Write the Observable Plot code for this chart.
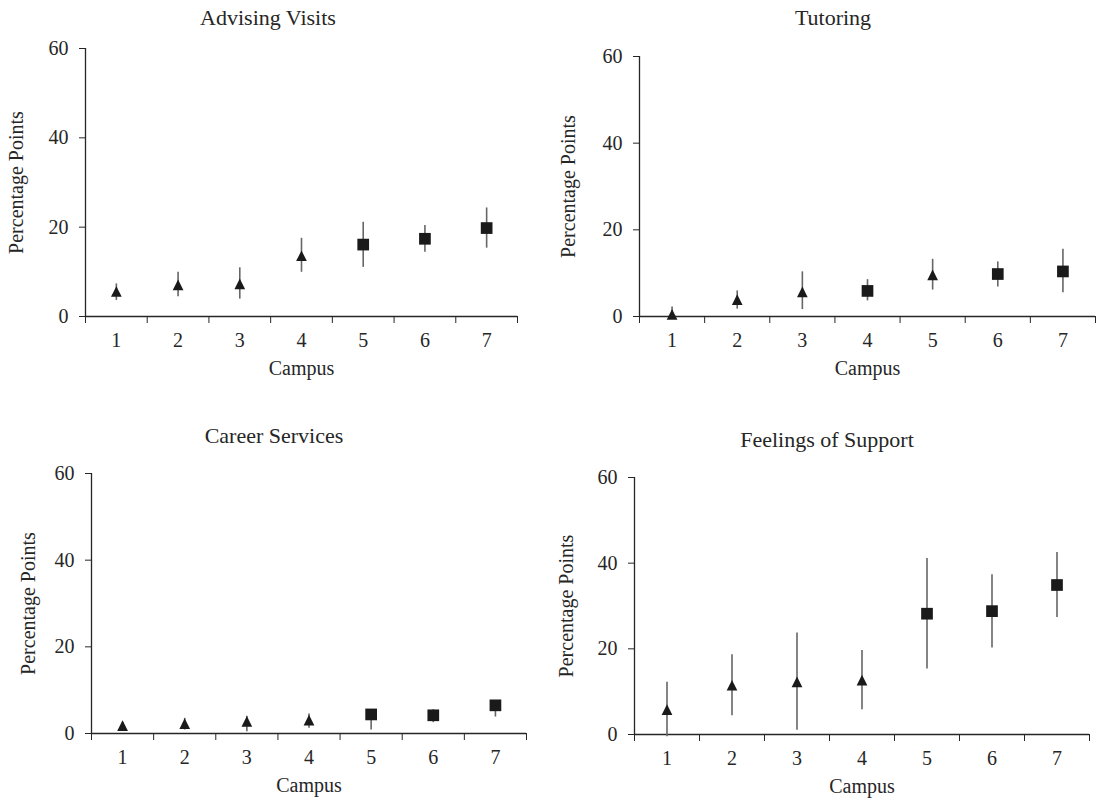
<!DOCTYPE html>
<html>
<head>
<meta charset="utf-8">
<script src="https://cdn.jsdelivr.net/npm/d3@7"></script>
<script src="https://cdn.jsdelivr.net/npm/@observablehq/plot@0.6"></script>
<style>
  html, body { margin: 0; padding: 0; background: #fff; }
  #wrap { position: relative; width: 1099px; height: 802px; overflow: hidden; font-family: "Liberation Serif", "Times New Roman", serif; color: #262626; }
  .panel { position: absolute; }
  .panel text { font-size: 20px; }
  .title { position: absolute; font-size: 22px; transform: translate(-50%, -50%); white-space: nowrap; }
</style>
</head>
<body>
<div id="wrap"></div>
<script>
// ---- Data ----
const campuses = [1, 2, 3, 4, 5, 6, 7];
const yTicks = [0, 20, 40, 60];

const panelTitles = ["Advising Visits", "Tutoring", "Career Services", "Feelings of Support"];

const advisingShape = ["triangle", "triangle", "triangle", "triangle", "square", "square", "square"];
const advisingEst   = [5.6, 7.1, 7.3, 13.6, 16.1, 17.4, 19.8];
const advisingLo    = [3.6, 4.4, 3.9, 9.9, 11.0, 14.4, 15.3];
const advisingHi    = [7.3, 9.9, 10.9, 17.5, 21.1, 20.4, 24.3];

const tutoringShape = ["triangle", "triangle", "triangle", "square", "triangle", "square", "square"];
const tutoringEst   = [0.5, 3.9, 5.7, 5.9, 9.6, 9.8, 10.4];
const tutoringLo    = [-0.6, 1.7, 1.6, 3.6, 6.1, 6.8, 5.5];
const tutoringHi    = [2.2, 5.9, 10.3, 8.5, 13.2, 12.6, 15.5];

const careerShape = ["triangle", "triangle", "triangle", "triangle", "square", "square", "square"];
const careerEst   = [1.8, 2.3, 2.8, 3.1, 4.4, 4.2, 6.5];
const careerLo    = [1.0, 0.8, 0.4, 1.2, 0.8, 2.5, 3.8];
const careerHi    = [2.6, 3.5, 4.0, 4.5, 5.4, 5.5, 7.5];

const supportShape = ["triangle", "triangle", "triangle", "triangle", "square", "square", "square"];
const supportEst   = [5.8, 11.5, 12.3, 12.7, 28.2, 28.8, 34.9];
const supportLo    = [-0.5, 4.4, 1.0, 5.8, 15.3, 20.2, 27.3];
const supportHi    = [12.2, 18.6, 23.7, 19.6, 41.1, 37.3, 42.5];

const series = [
  [advisingShape, advisingEst, advisingLo, advisingHi],
  [tutoringShape, tutoringEst, tutoringLo, tutoringHi],
  [careerShape, careerEst, careerLo, careerHi],
  [supportShape, supportEst, supportLo, supportHi]
];

// ---- Layout (positions only) ----
const layout = [
  {left: 0,   top: 0,   width: 549, height: 380, ml: 85, mr: 32, mt: 48, mb: 64, lo: 77, tx: 268, ty: 18},
  {left: 549, top: 0,   width: 550, height: 380, ml: 90, mr: 4,  mt: 56, mb: 64, lo: 79, tx: 833, ty: 18},
  {left: 0,   top: 420, width: 549, height: 382, ml: 91, mr: 23, mt: 53, mb: 69, lo: 71, tx: 274, ty: 436},
  {left: 549, top: 420, width: 550, height: 382, ml: 85, mr: 10, mt: 57, mb: 68, lo: 76, tx: 827, ty: 440}
];

// Excel-like triangle marker: as wide as it is tall, centred on its box
const excelTriangle = {
  draw(context, size) {
    const r = Math.sqrt(size / Math.PI);
    const h = r * 1.07;
    context.moveTo(0, -h);
    context.lineTo(h, h);
    context.lineTo(-h, h);
    context.closePath();
  }
};

const wrap = document.getElementById("wrap");
const bounds = [campuses[0] - 0.5, ...campuses.map(c => c + 0.5)];

series.forEach(([shape, est, lo, hi], i) => {
  const L = layout[i];
  const data = campuses.map((c, j) => ({campus: c, shape: shape[j], est: est[j], lo: lo[j], hi: hi[j]}));
  const plot = Plot.plot({
    width: L.width,
    height: L.height,
    marginLeft: L.ml,
    marginRight: L.mr,
    marginTop: L.mt,
    marginBottom: L.mb,
    x: {domain: [bounds[0], bounds[bounds.length - 1]]},
    y: {domain: [yTicks[0], yTicks[yTicks.length - 1]]},
    style: {fontFamily: '"Liberation Serif", "Times New Roman", serif', fontSize: "20px", color: "#262626", background: "transparent", overflow: "visible"},
    marks: [
      Plot.axisY({ticks: yTicks, tickSize: 6, tickPadding: 11, label: "Percentage Points", labelAnchor: "center", labelOffset: L.lo, labelArrow: "none"}),
      Plot.axisX({ticks: bounds, tickSize: 7, tickFormat: () => "", label: null}),
      Plot.axisX({ticks: campuses, tickSize: 0, tickPadding: 16, tickFormat: d => String(d), label: "Campus", labelAnchor: "center", labelOffset: 58, labelArrow: "none"}),
      Plot.ruleY([yTicks[0]], {stroke: "#262626", strokeWidth: 1.3}),
      Plot.ruleX([bounds[0]], {stroke: "#262626", strokeWidth: 1.3}),
      Plot.ruleX(data, {x: "campus", y1: "lo", y2: "hi", stroke: "#666", strokeWidth: 1.6}),
      Plot.dot(data.filter(d => d.shape === "triangle"), {x: "campus", y: "est", symbol: excelTriangle, r: 5, fill: "#1a1a1a", stroke: "none"}),
      Plot.dot(data.filter(d => d.shape === "square"), {x: "campus", y: "est", symbol: "square", r: 6.6, fill: "#1a1a1a", stroke: "none"})
    ]
  });
  plot.classList.add("panel");
  plot.style.left = L.left + "px";
  plot.style.top = L.top + "px";
  wrap.appendChild(plot);

  const t = document.createElement("div");
  t.className = "title";
  t.textContent = panelTitles[i];
  t.style.left = L.tx + "px";
  t.style.top = L.ty + "px";
  wrap.appendChild(t);
});
</script>
</body>
</html>
